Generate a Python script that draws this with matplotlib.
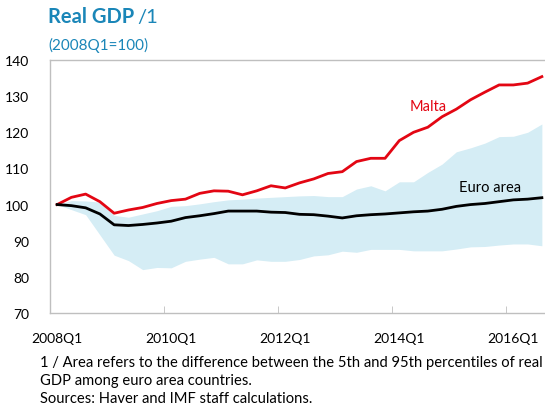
import numpy as np
import matplotlib.pyplot as plt

# quarterly series, 2008Q1 .. 2016Q3
quarters = [f"{y}Q{q}" for y in range(2008, 2017) for q in range(1, 5)][:35]

malta = [100.0, 102.0, 102.9, 100.8, 97.6, 98.5, 99.2, 100.3, 101.1, 101.5,
         103.1, 103.8, 103.7, 102.7, 103.8, 105.2, 104.6, 106.0,
         107.1, 108.6, 109.1, 111.9, 112.8, 112.8, 117.7, 120.0, 121.4,
         124.3, 126.4, 129.0, 131.1, 133.1, 133.1, 133.6, 135.4]

euro_area = [100.0, 99.7, 99.1, 97.4, 94.4, 94.2, 94.5, 94.9, 95.4, 96.4,
             96.9, 97.5, 98.2, 98.2, 98.2, 97.9, 97.8, 97.3,
             97.2, 96.8, 96.3, 96.9, 97.2, 97.4, 97.7, 98.0, 98.2,
             98.7, 99.5, 100.0, 100.3, 100.8, 101.3, 101.5, 101.9]

p95 = [100.0, 101.1, 101.0, 100.7, 97.0, 96.5, 97.4, 98.3, 99.5, 99.7,
       100.2, 100.8, 101.3, 101.5, 101.8, 102.0, 102.2, 102.4,
       102.5, 102.2, 102.2, 104.3, 105.2, 103.8, 106.3, 106.3, 108.9,
       111.2, 114.6, 115.7, 117.0, 118.8, 118.9, 120.0, 122.3]

p5 = [100.0, 98.6, 97.2, 91.6, 86.0, 84.5, 82.0, 82.6, 82.5, 84.3,
      84.9, 85.4, 83.6, 83.6, 84.7, 84.3, 84.3, 84.8,
      85.8, 86.1, 87.1, 86.8, 87.6, 87.6, 87.6, 87.2, 87.2,
      87.2, 87.7, 88.3, 88.4, 88.8, 89.1, 89.1, 88.6]

yticks = [70, 80, 90, 100, 110, 120, 130, 140]

plt.rcParams['font.family'] = ['Lato', 'DejaVu Sans']

W, H = 545, 406
fig = plt.figure(figsize=(W / 100, H / 100), dpi=100)
ax = fig.add_axes([50 / W, (H - 314) / H, 499 / W, 253 / H])

x = np.arange(len(quarters))
ax.fill_between(x, p5, p95, color='#d5edf5', linewidth=0)
ax.plot(x, malta, color='#e30613', lw=2)
ax.plot(x, euro_area, color='black', lw=2)

# series labels
ax.text(26.0, 127.3, 'Malta', color='#e30613', fontsize=10.5, ha='center', va='center')
ax.text(30.4, 104.9, 'Euro area', color='black', fontsize=10.5, ha='center', va='center')

ax.set_xlim(-0.5, 34.5)
ax.set_ylim(70, 140)
ax.set_yticks(yticks)
ax.tick_params(axis='y', length=0, pad=15, labelsize=10)

ax.set_xticks(x[::8])
ax.set_xticklabels([quarters[i] for i in x[::8]])
ax.tick_params(axis='x', length=0, pad=14, labelsize=10)
ax.set_xticks(np.arange(-0.5, 35, 8), minor=True)
ax.tick_params(axis='x', which='minor', direction='in', length=5, color='#bfbfbf')

for s in ax.spines.values():
    s.set_color('#bfbfbf')
    s.set_linewidth(1)

fig.text(48 / W, 1 - 17 / H, 'Real GDP', color='#1a86b8', fontsize=14.5,
         fontweight='bold', va='center', ha='left')
fig.text(137 / W, 1 - 17 / H, '/1', color='#1a86b8', fontsize=14.5,
         va='center', ha='left')
fig.text(48 / W, 1 - 45 / H, '(2008Q1=100)', color='#1a86b8', fontsize=11,
         va='center', ha='left')

notes = ['1 / Area refers to the difference between the 5th and 95th percentiles of real',
         'GDP among euro area countries.',
         'Sources: Haver and IMF staff calculations.']
for i, line in enumerate(notes):
    fig.text(40 / W, 1 - (363 + 18 * i) / H, line, fontsize=10.65,
             va='center', ha='left')

fig.savefig('out.png', dpi=100)
